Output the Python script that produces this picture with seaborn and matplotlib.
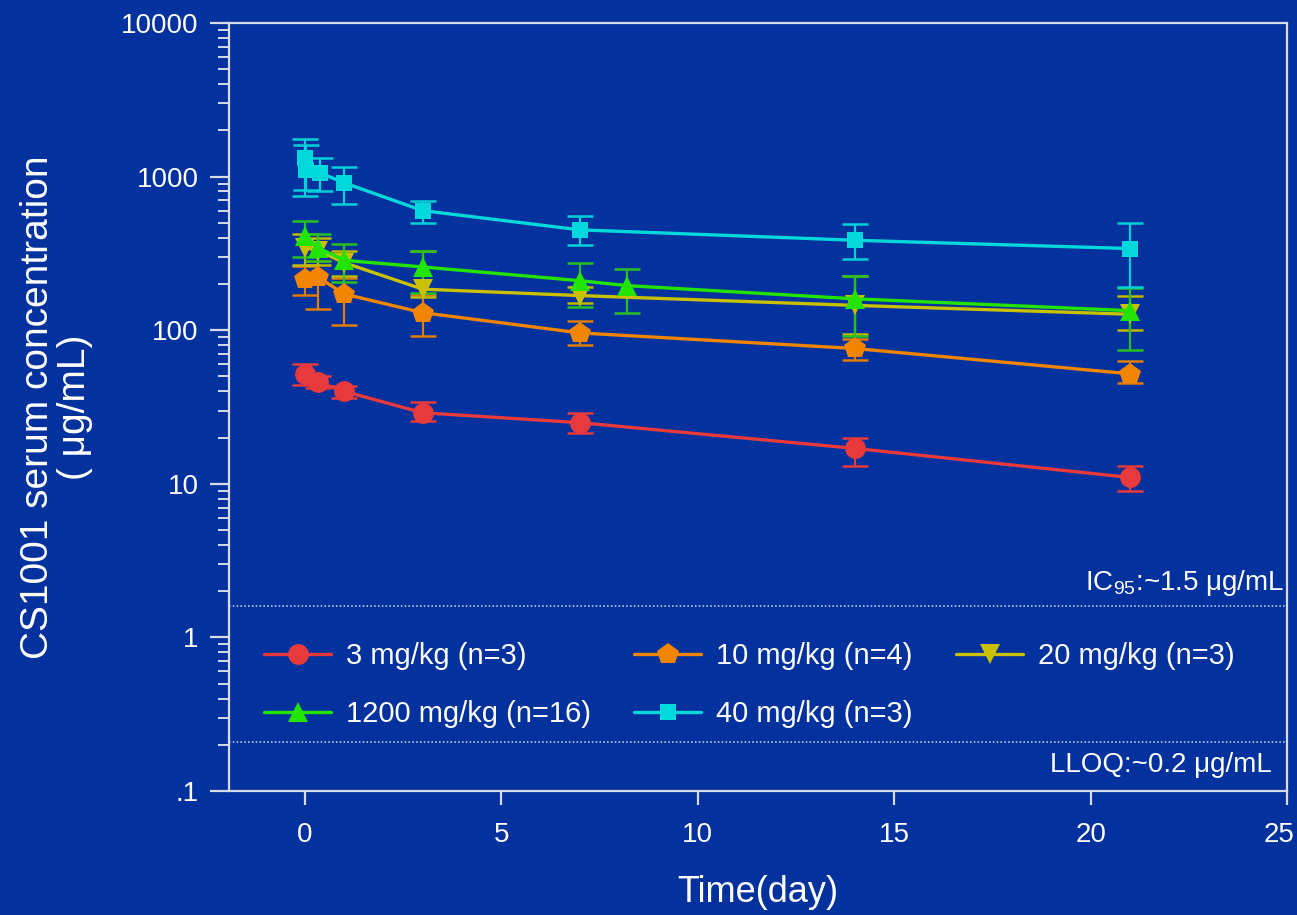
import matplotlib
matplotlib.use("Agg")
import matplotlib.pyplot as plt
from matplotlib.lines import Line2D
from matplotlib.ticker import FixedLocator, LogLocator, NullFormatter, FuncFormatter
from matplotlib.transforms import ScaledTranslation
import pandas as pd
import seaborn as sns

# ======================================
# DATA
# ======================================
doses = ["3 mg/kg (n=3)", "10 mg/kg (n=4)", "20 mg/kg (n=3)",
         "1200 mg/kg (n=16)", "40 mg/kg (n=3)"]

t_3 = [0, 0.33, 1, 3, 7, 14, 21]
c_3 = [52, 46, 40, 29, 25, 17, 11]
lo_3 = [44, 42, 36, 25.5, 21.5, 13, 9]
hi_3 = [60, 50, 43, 34, 29, 20, 13]

t_10 = [0, 0.33, 1, 3, 7, 14, 21]
c_10 = [215, 222, 172, 130, 96, 76, 52]
lo_10 = [170, 138, 108, 92, 80, 64, 45]
hi_10 = [262, 280, 220, 170, 115, 88, 63]

t_20 = [0, 0.33, 1, 3, 7, 14, 21]
c_20 = [345, 330, 275, 185, 168, 145, 127]
lo_20 = [265, 265, 225, 165, 150, 95, 100]
hi_20 = [420, 400, 330, 330, 190, 225, 168]

t_1200 = [0, 0.33, 1, 3, 7, 8.2, 14, 21]
c_1200 = [410, 345, 285, 258, 210, 195, 160, 134]
lo_1200 = [300, 280, 205, 175, 142, 130, 92, 74]
hi_1200 = [515, 420, 365, 330, 275, 250, 226, 187]

t_40 = [0, 0.04, 0.38, 1, 3, 7, 14, 21]
c_40 = [1330, 1100, 1060, 910, 600, 450, 385, 340]
lo_40 = [750, 820, 800, 660, 500, 360, 290, 190]
hi_40 = [1760, 1610, 1320, 1150, 690, 550, 490, 500]

ic95_line = 1.6
lloq_line = 0.21

colores = ["#e83a3c", "#f28500", "#c8c000", "#22e400", "#00d8dc"]
colores_err = ["#e83a3c", "#e07c08", "#c0b800", "#28c020", "#00d0d8"]
marcadores = ["o", "p", "v", "^", "s"]
tam_marcador = [15, 16, 14, 15, 12]

series = [(t_3, c_3, lo_3, hi_3), (t_10, c_10, lo_10, hi_10),
          (t_20, c_20, lo_20, hi_20), (t_1200, c_1200, lo_1200, hi_1200),
          (t_40, c_40, lo_40, hi_40)]

filas = []
for dosis, (t, c, lo, hi) in zip(doses, series):
    for ti, ci, li, hii in zip(t, c, lo, hi):
        filas.append({"day": ti, "conc": ci, "lo": li, "hi": hii, "dose": dosis})
df = pd.DataFrame(filas)

# ======================================
# STYLE
# ======================================
fondo = "#03319d"
blanco = "#d8dcea"
sns.set_theme(style="ticks")
plt.rcParams["font.family"] = ["Liberation Sans", "DejaVu Sans"]
plt.rcParams["mathtext.fontset"] = "custom"
plt.rcParams["mathtext.rm"] = "Liberation Sans"
plt.rcParams["mathtext.default"] = "rm"

fig = plt.figure(figsize=(12.97, 9.15), dpi=100, facecolor=fondo)
ax = fig.add_axes([0.1766, 0.1355, 0.8157, 0.8394])
ax.set_facecolor(fondo)

# lines + markers with seaborn
sns.lineplot(data=df, x="day", y="conc", hue="dose", style="dose",
             hue_order=doses, style_order=doses,
             palette=dict(zip(doses, colores)),
             markers=dict(zip(doses, marcadores)), dashes=False,
             lw=2.4, mew=0, errorbar=None, legend=False, ax=ax, zorder=4)
for linea, ms in zip(ax.lines, tam_marcador):
    linea.set_markersize(ms)

# asymmetric error bars
for dosis, col in zip(doses, colores_err):
    d = df[df["dose"] == dosis]
    ax.errorbar(d["day"], d["conc"],
                yerr=[d["conc"] - d["lo"], d["hi"] - d["conc"]],
                fmt="none", ecolor=col, elinewidth=1.6, capsize=9.5,
                capthick=1.8, zorder=3)

ax.set_yscale("log")
ax.set_ylim(0.1, 10000)
ax.set_xlim(-1.93, 25)

ax.axhline(ic95_line, color=blanco, lw=1.1, ls=(0, (1, 1.5)), zorder=1)
ax.axhline(lloq_line, color=blanco, lw=1.1, ls=(0, (1, 1.5)), zorder=1)
ax.text(24.92, 1.8, r"IC$_{95}$:~1.5 μg/mL", ha="right", va="bottom",
        fontsize=20, color="white")
ax.text(24.6, 0.18, "LLOQ:~0.2 μg/mL", ha="right", va="top",
        fontsize=20, color="white")

# axes, ticks
for lado in ax.spines.values():
    lado.set_color(blanco)
    lado.set_linewidth(1.6)
ax.xaxis.set_major_locator(FixedLocator([0, 5, 10, 15, 20, 25]))
ax.yaxis.set_major_locator(FixedLocator([0.1, 1, 10, 100, 1000, 10000]))
ax.yaxis.set_minor_locator(LogLocator(base=10, subs=range(2, 10), numticks=20))
ax.yaxis.set_minor_formatter(NullFormatter())
ax.yaxis.set_major_formatter(FuncFormatter(
    lambda v, p: ("%g" % v).lstrip("0") if v < 1 else "%d" % v))
ax.tick_params(axis="both", which="major", colors=blanco, labelcolor="white",
               labelsize=20, width=1.6, direction="out")
ax.tick_params(axis="y", which="major", length=14, pad=8)
ax.tick_params(axis="y", which="minor", length=8, width=1.4, colors=blanco)
ax.tick_params(axis="x", which="major", length=10, pad=12)
ax.tick_params(top=False, right=False, which="both")

# keep the "25" label inside the picture
ultima = ax.get_xticklabels()[-1]
ultima.set_transform(ultima.get_transform()
                     + ScaledTranslation(-6 / 72, 0, fig.dpi_scale_trans))

ax.set_xlabel("Time(day)", fontsize=26, color="white", labelpad=20)
ax.set_ylabel("CS1001 serum concentration\n( μg/mL)", fontsize=28,
              color="white", labelpad=20, linespacing=1.05)

# legend, row order: 3, 10, 20 / 1200, 40
manijas = [Line2D([], [], color=c, marker=m, ms=ms, mew=0, lw=2.4)
           for c, m, ms in zip(colores, marcadores, tam_marcador)]
orden = [0, 3, 1, 4, 2]
ley = ax.legend([manijas[i] for i in orden], [doses[i] for i in orden],
                ncol=3, frameon=False, loc="center left",
                bbox_to_anchor=(0.033, 0.138), fontsize=21,
                handlelength=2.3, handletextpad=0.5, columnspacing=1.5,
                labelspacing=1.05, borderpad=0, borderaxespad=0)
for txt in ley.get_texts():
    txt.set_color("white")

fig.savefig("out.png", dpi=100, facecolor=fondo)
